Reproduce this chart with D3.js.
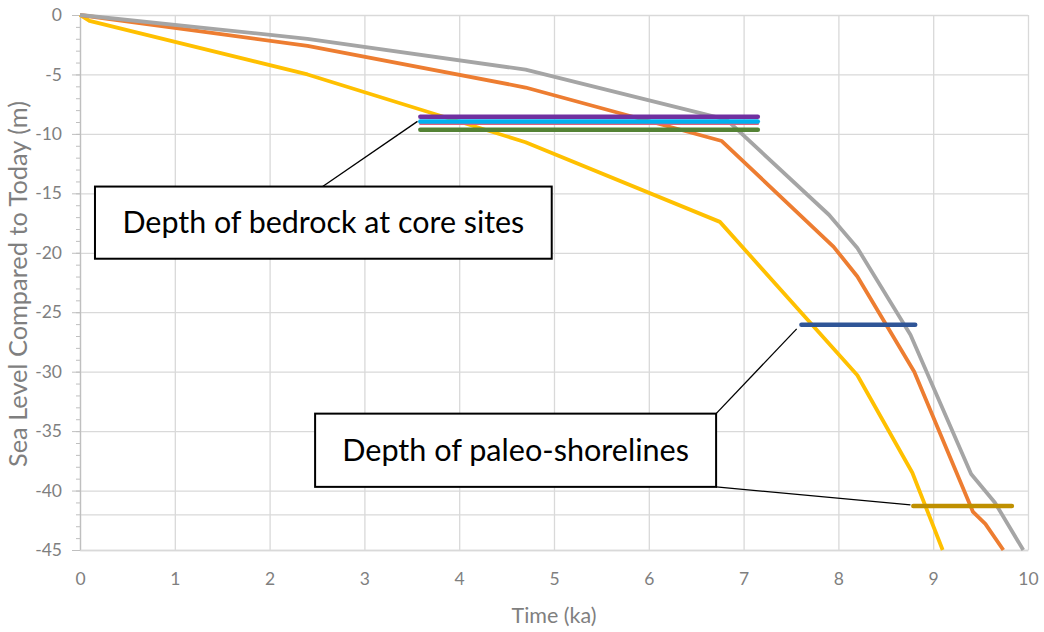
<!DOCTYPE html>
<html>
<head>
<meta charset="utf-8">
<script src="https://cdn.jsdelivr.net/npm/d3@7"></script>
<style>
  body { margin: 0; background: #fff; }
  svg { display: block; font-family: Lato, "Open Sans", sans-serif; }
</style>
</head>
<body>
<div id="chart"></div>
<script>
(function(d3) {
  'use strict';

  // sea level curves (time in ka, level in m)
  var greyTime    = [0, 2.4, 4.7, 6.82, 7.9, 8.2, 8.76, 9.4, 9.65, 9.95];
  var greyLevel   = [0, -2.0, -4.6, -8.8, -16.8, -19.6, -26.9, -38.6, -41.0, -45];
  var orangeTime  = [0, 2.4, 4.7, 6.77, 7.95, 8.2, 8.8, 9.42, 9.55, 9.74];
  var orangeLevel = [0, -2.6, -6.1, -10.6, -19.5, -22.0, -30.0, -41.8, -42.8, -45];
  var yellowTime  = [0, 0.1, 2.4, 4.7, 6.75, 8.2, 8.78, 9.1];
  var yellowLevel = [0, -0.5, -5.0, -10.7, -17.4, -30.3, -38.5, -45];

  // depth of bedrock at core sites
  var bedrockStart = [3.59, 3.59, 3.59, 3.59];
  var bedrockEnd   = [7.15, 7.15, 7.15, 7.15];
  var bedrockDepth = [-8.55, -9.15, -8.95, -9.65];
  var bedrockColor = ['#7030a0', '#e0607a', '#00b0f0', '#548235'];

  // depth of paleo-shorelines
  var shoreStart = [7.61, 8.79];
  var shoreEnd   = [8.81, 9.83];
  var shoreDepth = [-26.05, -41.3];
  var shoreColor = ['#2f5597', '#bf9000'];

  var xTicks = [0, 1, 2, 3, 4, 5, 6, 7, 8, 9, 10];
  var yTicks = [0, -5, -10, -15, -20, -25, -30, -35, -40, -45];
  var yMinor = d3.range(0, -46, -1);
  var extraGrid = -42;

  var width = 1044;
  var height = 632;
  var margin = { left: 80, right: 16, top: 15, bottom: 82 };
  var innerW = width - margin.left - margin.right;
  var innerH = height - margin.top - margin.bottom;

  var x = d3.scaleLinear().domain([0, 10]).range([0, innerW]);
  var y = d3.scaleLinear().domain([0, -45]).range([0, innerH]);

  var fmt = function(d) { return String(d); };  // plain hyphen, not unicode minus

  var svg = d3.select('#chart')
    .append('svg')
    .attr('width', width)
    .attr('height', height);

  svg.append('rect').attr('width', width).attr('height', height).attr('fill', '#fff');

  var g = svg.append('g')
    .attr('transform', 'translate(' + margin.left + ',' + margin.top + ')');

  // fit a text node to a target width
  function fitText(t, base, target) {
    var w = t.node().getComputedTextLength();
    t.style('font-size', (base * target / w) + 'px');
  }

  // gridlines
  g.append('g')
    .attr('class', 'grid')
    .call(d3.axisBottom(x).tickValues(xTicks).tickSize(innerH).tickFormat(''))
    .call(function(s) {
      s.select('.domain').remove();
      s.selectAll('line').attr('stroke', '#d9d9d9').attr('stroke-width', 1.3);
    });

  g.append('g')
    .attr('class', 'grid')
    .call(d3.axisLeft(y).tickValues(yTicks.concat([extraGrid])).tickSize(-innerW).tickFormat(''))
    .call(function(s) {
      s.select('.domain').remove();
      s.selectAll('line').attr('stroke', '#d9d9d9').attr('stroke-width', 1.3);
    });

  // y axis with minor ticks
  g.append('g')
    .call(d3.axisLeft(y).tickValues(yMinor).tickSize(4).tickSizeOuter(0).tickFormat(''))
    .call(function(s) {
      s.selectAll('line').attr('stroke', '#bfbfbf');
      s.select('.domain').attr('stroke', '#bfbfbf').attr('stroke-width', 1.3);
    });

  g.append('g')
    .call(d3.axisLeft(y).tickValues(yTicks).tickSize(8).tickSizeOuter(0).tickPadding(10).tickFormat(fmt))
    .call(function(s) {
      s.select('.domain').remove();
      s.selectAll('line').attr('stroke', '#bfbfbf');
      s.selectAll('text')
        .attr('fill', '#7f7f7f')
        .style('font-size', '17.5px')
        .style('font-family', 'Lato, sans-serif');
    });

  // x axis labels
  g.append('g')
    .attr('transform', 'translate(0,' + innerH + ')')
    .call(d3.axisBottom(x).tickValues(xTicks).tickSize(0).tickPadding(23).tickFormat(fmt))
    .call(function(s) {
      s.select('.domain').attr('stroke', '#d9d9d9').attr('stroke-width', 1.3);
      s.selectAll('text')
        .attr('fill', '#7f7f7f')
        .style('font-size', '17.5px')
        .style('font-family', 'Lato, sans-serif');
    });

  // axis titles
  var xTitle = svg.append('text')
    .attr('x', margin.left + innerW / 2)
    .attr('y', 623)
    .attr('text-anchor', 'middle')
    .attr('fill', '#7f7f7f')
    .style('font-size', '18px')
    .text('Time (ka)');
  fitText(xTitle, 18, 85);

  var yTitle = svg.append('text')
    .attr('transform', 'translate(27,284) rotate(-90)')
    .attr('text-anchor', 'middle')
    .attr('fill', '#7f7f7f')
    .style('font-size', '18px')
    .text('Sea Level Compared to Today (m)');
  fitText(yTitle, 18, 366);

  // curves
  var line = d3.line()
    .x(function(d) { return x(d[0]); })
    .y(function(d) { return y(d[1]); });

  var curves = [
    { t: yellowTime, v: yellowLevel, color: '#ffc000' },
    { t: orangeTime, v: orangeLevel, color: '#ed7d31' },
    { t: greyTime, v: greyLevel, color: '#a5a5a5' }
  ];

  curves.forEach(function(c) {
    g.append('path')
      .datum(d3.zip(c.t, c.v))
      .attr('d', line)
      .attr('fill', 'none')
      .attr('stroke', c.color)
      .attr('stroke-width', 3.8)
      .attr('stroke-linejoin', 'round');
  });

  // bedrock and shoreline bars
  var bars = [];
  bedrockDepth.forEach(function(dep, i) {
    bars.push({ a: bedrockStart[i], b: bedrockEnd[i], v: dep, color: bedrockColor[i], w: i === 1 ? 2.5 : 4.5 });
  });
  shoreDepth.forEach(function(dep, i) {
    bars.push({ a: shoreStart[i], b: shoreEnd[i], v: dep, color: shoreColor[i], w: 4.5 });
  });

  g.selectAll('.bar')
    .data(bars)
    .enter()
    .append('line')
    .attr('class', 'bar')
    .attr('x1', function(d) { return x(d.a); })
    .attr('x2', function(d) { return x(d.b); })
    .attr('y1', function(d) { return y(d.v); })
    .attr('y2', function(d) { return y(d.v); })
    .attr('stroke', function(d) { return d.color; })
    .attr('stroke-width', function(d) { return d.w; })
    .attr('stroke-linecap', 'round');

  // callouts (box corners in data units)
  var callouts = [
    { label: 'Depth of bedrock at core sites', x0: 0.158, x1: 4.976, y0: -14.43, y1: -20.5, textW: 402,
      leaders: [[[2.56, -14.43], [3.56, -8.95]]] },
    { label: 'Depth of paleo-shorelines', x0: 2.48, x1: 6.71, y0: -33.53, y1: -39.69, textW: 347,
      leaders: [[[6.71, -33.53], [7.56, -26.4]], [[6.71, -39.69], [8.76, -41.2]]] }
  ];

  callouts.forEach(function(c) {
    c.leaders.forEach(function(l) {
      g.append('line')
        .attr('x1', x(l[0][0])).attr('y1', y(l[0][1]))
        .attr('x2', x(l[1][0])).attr('y2', y(l[1][1]))
        .attr('stroke', '#000')
        .attr('stroke-width', 1.3);
    });

    g.append('rect')
      .attr('x', x(c.x0))
      .attr('y', y(c.y0))
      .attr('width', x(c.x1) - x(c.x0))
      .attr('height', y(c.y1) - y(c.y0))
      .attr('fill', '#fff')
      .attr('stroke', '#000')
      .attr('stroke-width', 2);

    var t = g.append('text')
      .attr('x', (x(c.x0) + x(c.x1)) / 2)
      .attr('y', (y(c.y0) + y(c.y1)) / 2)
      .attr('dy', '0.35em')
      .attr('text-anchor', 'middle')
      .attr('fill', '#000')
      .style('font-size', '30px')
      .text(c.label);
    fitText(t, 30, c.textW);
  });

})(window.d3);
</script>
</body>
</html>
